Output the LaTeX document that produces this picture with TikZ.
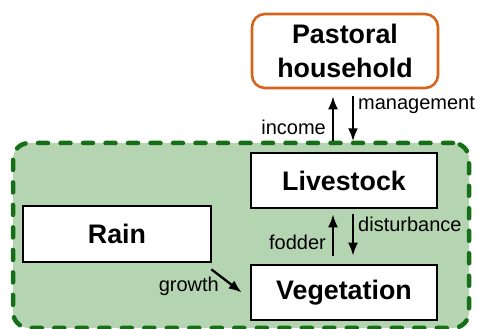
\documentclass[tikz,border=0pt]{standalone}
\usepackage{fontspec}
\setmainfont{Liberation Sans}
\usetikzlibrary{arrows.meta}
\definecolor{orangeB}{RGB}{212,100,26}
\definecolor{greenD}{RGB}{22,110,22}
\definecolor{greenF}{RGB}{181,212,178}
\tikzset{
  box/.style={draw=black, line width=2.6pt, fill=white, minimum width=186pt, inner sep=0pt,
    font=\fontsize{26.8}{34}\selectfont\bfseries, align=center},
  arr/.style={line width=2.3pt, -{Latex[length=13pt,width=10pt]}},
  lbl/.style={font=\fontsize{20}{24}\selectfont, inner sep=0pt},
}
\begin{document}
\begin{tikzpicture}[x=1pt,y=1pt]
\useasboundingbox (0,0) rectangle (477,329);
\node[draw=greenD, fill=greenF, line width=4.5pt, dash pattern=on 10pt off 12.5pt, line cap=round,
  rounded corners=16pt, minimum width=456pt, minimum height=185pt, inner sep=0pt] (sys) at (241,93.5) {};
\node[box, draw=orangeB, rounded corners=13pt, minimum height=74pt] (house) at (345,278) {Pastoral\\household};
\node[box, minimum height=55pt] (live) at (344,148.5) {Livestock};
\node[box, minimum width=188pt, minimum height=56pt] (rain) at (117,95) {Rain};
\node[box, minimum height=55pt] (veg) at (344,36.5) {Vegetation};
\draw[arr] ([xshift=-12pt,yshift=-52pt]house.south) -- ([xshift=-12pt,yshift=-7pt]house.south);
\draw[arr] ([xshift=8pt,yshift=-7pt]house.south) -- ([xshift=8pt,yshift=-52pt]house.south);
\draw[arr, shorten <=8pt, shorten >=5pt] ([xshift=-11pt]veg.north) -- ([xshift=-11pt]live.south);
\draw[arr, shorten <=5pt, shorten >=8pt] ([xshift=9pt]live.south) -- ([xshift=9pt]veg.north);
\draw[arr] ([shift={(-1pt,-6pt)}]rain.south east) -- ([xshift=-8pt]veg.west);
\node[lbl, anchor=base east] (lincome) at (326,194) {income};
\node[lbl, anchor=base west] (lmanage) at (358,219) {management};
\node[lbl, anchor=base east] (lfodder) at (326,79) {fodder};
\node[lbl, anchor=base west] (ldist) at (358,97) {disturbance};
\node[lbl, anchor=base east] (lgrowth) at (219,37) {growth};
\end{tikzpicture}
\end{document}
